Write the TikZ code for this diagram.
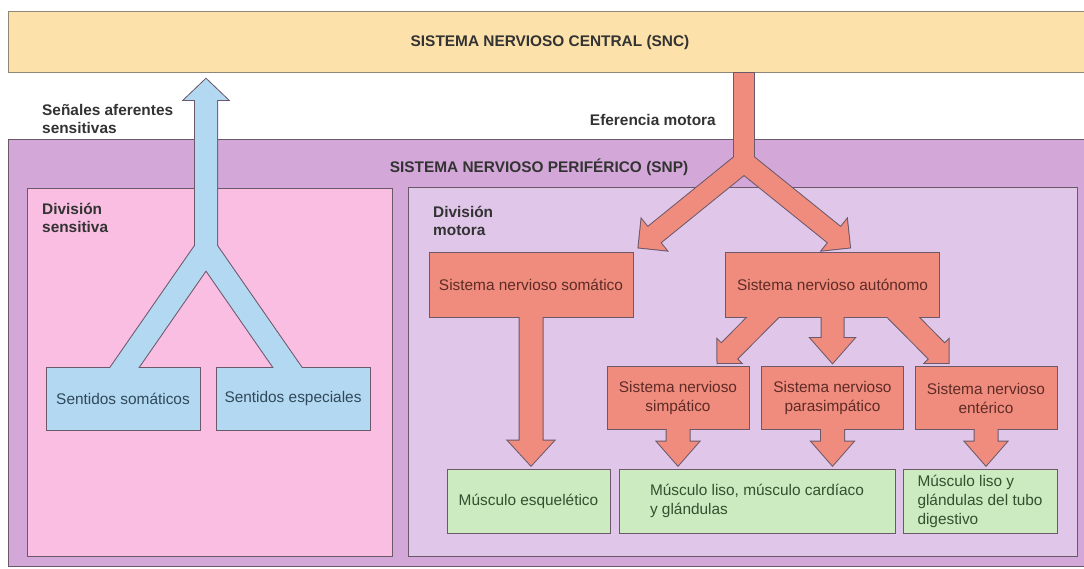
\documentclass[tikz,border=0pt]{standalone}
\usepackage{fontspec}
\setmainfont{Liberation Sans}
\usetikzlibrary{calc}

\pgfdeclarelayer{back}
\pgfdeclarelayer{lines}
\pgfdeclarelayer{front}
\pgfsetlayers{back,lines,main,front}

% fat arrow: style, from, tip, shaft half width, head half width, head length
\newcommand\fatarrow[6]{%
  \path ($(#3)!#6!(#2)$) coordinate (fa-head);
  \path[#1] ($(#2)!#4!90:(#3)$) -- ($(fa-head)!#4!90:(#3)$) -- ($(fa-head)!#5!90:(#3)$) -- (#3)
    -- ($(fa-head)!#5!-90:(#3)$) -- ($(fa-head)!#4!-90:(#3)$) -- ($(#2)!#4!-90:(#3)$) -- cycle;}
% fat bar, no head: style, from, to, half width
\newcommand\fatbar[4]{%
  \path[#1] ($(#2)!#4!90:(#3)$) -- ($(#3)!#4!-90:(#2)$) -- ($(#3)!#4!90:(#2)$) -- ($(#2)!#4!-90:(#3)$) -- cycle;}

\begin{document}
\begin{tikzpicture}[x=1pt, y=-1pt,
  every node/.style={font=\fontsize{15.4}{19}\selectfont, inner sep=0pt},
  region/.style={draw=edge, line width=1pt},
  heading/.style={font=\fontsize{15.4}{18}\selectfont\bfseries, text=ink, align=left},
  nervebox/.style={draw=edge, line width=1pt, fill=salmon, text=salmontext, align=center},
  sensebox/.style={draw=edge, line width=1pt, fill=skyblue, text=bluetext, align=center, minimum width=154pt, minimum height=63pt},
  musclebox/.style={draw=edge, line width=1pt, fill=mint, text=greentext, align=left, minimum height=64pt},
  arrowline/.style={draw=edge, line width=2pt},
  motorfill/.style={fill=salmon},
  sensfill/.style={fill=skyblue}]
\definecolor{sncyellow}{HTML}{FCE1AA}
\definecolor{sncedge}{HTML}{8E8778}
\definecolor{snppurple}{HTML}{D3A8D8}
\definecolor{sensepink}{HTML}{F9BEE1}
\definecolor{motorlilac}{HTML}{E0C6E8}
\definecolor{salmon}{HTML}{F08C7D}
\definecolor{skyblue}{HTML}{B3D8F1}
\definecolor{mint}{HTML}{CCEBC1}
\definecolor{edge}{HTML}{6B5869}
\definecolor{ink}{HTML}{333333}
\definecolor{salmontext}{HTML}{5E2B26}
\definecolor{bluetext}{HTML}{30495A}
\definecolor{greentext}{HTML}{33502F}

\useasboundingbox (0,0) rectangle (1084,569);

% regions
\begin{pgfonlayer}{back}
\fill[white] (0,0) rectangle (1084,569);
\node[region, fill=sncyellow, draw=sncedge, minimum width=1080pt, minimum height=61pt] (snc) at (548,42.5) {};
\node[region, fill=snppurple, minimum width=1080pt, minimum height=426pt] (snp) at (548,353) {};
\node[region, fill=sensepink, minimum width=365pt, minimum height=367pt] (sensdiv) at (209.5,372.5) {};
\node[region, fill=motorlilac, minimum width=669pt, minimum height=368pt] (motordiv) at (742.5,372) {};
\end{pgfonlayer}

% headings
\node[heading] (snctext) at (550,43) {SISTEMA NERVIOSO CENTRAL (SNC)};
\node[heading] (snptext) at (539,167) {SISTEMA NERVIOSO PERIFÉRICO (SNP)};
\node[heading, anchor=west] (aferente) at (42,119) {Señales aferentes\\sensitivas};
\node[heading, anchor=east] (eferente) at (716,120) {Eferencia motora};
\node[heading, anchor=west] (senstext) at (42,218) {División\\sensitiva};
\node[heading, anchor=west] (motortext) at (433,221) {División\\motora};

% boxes
\node[nervebox, minimum width=204pt, minimum height=64pt] (somatico) at (531,285) {Sistema nervioso somático};
\node[nervebox, minimum width=214pt, minimum height=64pt] (autonomo) at (832.5,285) {Sistema nervioso autónomo};
\node[nervebox, minimum width=142pt, minimum height=63pt] (simpatico) at (678,398) {Sistema nervioso\\simpático};
\node[nervebox, minimum width=142pt, minimum height=63pt] (parasimp) at (832.5,398) {Sistema nervioso\\parasimpático};
\node[nervebox, minimum width=142pt, minimum height=63pt] (enterico) at (986,398) {Sistema nervioso\\entérico};
\node[sensebox] (sentsom) at (123,398.5) {Sentidos somáticos};
\node[sensebox] (sentesp) at (293,398.5) {Sentidos especiales};
\node[musclebox, minimum width=163pt, align=center] (esqueleto) at (528.5,501) {Músculo esquelético};
\node[musclebox, minimum width=276pt] (liso) at (757,501) {Músculo liso, músculo cardíaco\\y glándulas};
\node[musclebox, minimum width=154pt] (digestivo) at (980,501) {Músculo liso y\\glándulas del tubo\\digestivo};

% arrow ends
\coordinate (mfork) at (744,162);
\coordinate (mtop) at (snc.south -| mfork);
\coordinate (mleft) at ($(somatico.north east)+(5,-5)$);
\coordinate (mright) at ($(autonomo.north west)+(125,-5)$);
\coordinate (somfrom) at ($(somatico.south)+(0,-3)$);
\coordinate (somto) at ($(esqueleto.north -| somatico.south)+(0,-3)$);
\coordinate (autfrom) at ($(autonomo.south)+(0,-3)$);
\coordinate (autto) at ($(parasimp.north)+(0,-3)$);
\coordinate (autlfrom) at (774,306);
\coordinate (autlto) at ($(simpatico.north east)+(-32,-3)$);
\coordinate (autrfrom) at (892,306);
\coordinate (autrto) at ($(enterico.north west)+(34,-3)$);
\coordinate (simpfrom) at ($(simpatico.south)+(0,-3)$);
\coordinate (simpto) at ($(liso.north -| simpatico.south)+(0,-3)$);
\coordinate (parafrom) at ($(parasimp.south)+(0,-3)$);
\coordinate (parato) at ($(liso.north -| parasimp.south)+(0,-3)$);
\coordinate (entfrom) at ($(enterico.south)+(0,-3)$);
\coordinate (entto) at ($(digestivo.north -| enterico.south)+(0,-3)$);
\coordinate (sfork) at (206,250);
\coordinate (stip) at ($(snc.south -| sfork)+(0,5.5)$);
\coordinate (sleft) at (115.8,380);
\coordinate (sright) at (296.2,380);

% fat arrows: outline pass under the boxes, fill pass on top
\foreach \lyr/\mst/\sst in {lines/arrowline/arrowline, front/motorfill/sensfill}{
  \begin{pgfonlayer}{\lyr}
  \fatbar{\mst}{mtop}{mfork}{10pt}
  \fatarrow{\mst}{mfork}{mleft}{10pt}{20pt}{20pt}
  \fatarrow{\mst}{mfork}{mright}{10pt}{20pt}{20pt}
  \fatarrow{\mst}{somfrom}{somto}{11.5pt}{23pt}{25pt}
  \fatarrow{\mst}{autfrom}{autto}{11pt}{22pt}{25pt}
  \fatarrow{\mst}{autlfrom}{autlto}{11pt}{16.5pt}{16.5pt}
  \fatarrow{\mst}{autrfrom}{autrto}{11pt}{16.5pt}{16.5pt}
  \fatarrow{\mst}{simpfrom}{simpto}{11.5pt}{21pt}{24pt}
  \fatarrow{\mst}{parafrom}{parato}{11.5pt}{21pt}{24pt}
  \fatarrow{\mst}{entfrom}{entto}{11.5pt}{21pt}{24pt}
  \fatbar{\sst}{sfork}{sleft}{11.5pt}
  \fatbar{\sst}{sfork}{sright}{11.5pt}
  \fatarrow{\sst}{sfork}{stip}{11pt}{22pt}{21pt}
  \end{pgfonlayer}
}
\end{tikzpicture}
\end{document}
